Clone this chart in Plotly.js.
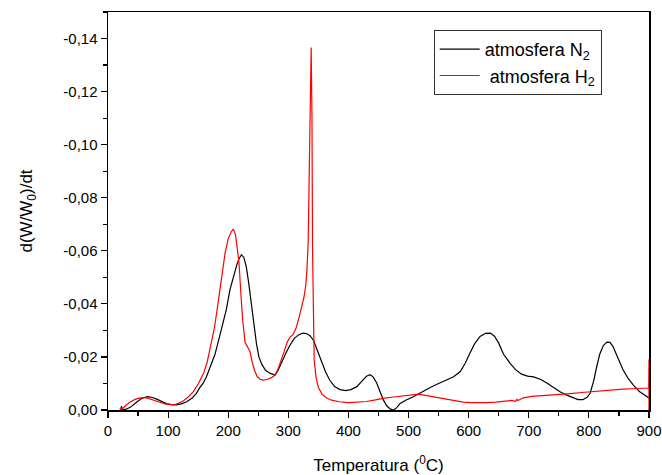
<!DOCTYPE html>
<html>
<head>
<meta charset="utf-8">
<script src="https://cdn.plot.ly/plotly-3.0.1.min.js"></script>
<style>html,body{margin:0;padding:0;background:#fff;}#chart{width:662px;height:475px;}</style>
</head>
<body>
<div id="chart"></div>
<script>
// Temperature (°C) and d(W/W0)/dt for N2 atmosphere
const tempN2 = [22,25,30,37,48,57,66,74,82,90,98,106,114,122,131,140,147,153,158,164,170,178,186,192,197,203,209,214,218,222,226,230,234,239,243,247,251,256,262,270,278,283,289,296,303,310,317,324,330,336,342,348,355,362,369,377,386,395,404,414,422,430,436,441,447,452,458,464,470,475,480,486,496,508,522,536,550,563,575,586,594,602,610,619,628,636,643,650,658,669,678,688,698,708,720,730,741,752,764,774,782,790,797,802,808,813,818,824,830,835,840,846,852,857,865,874,884,896,900];
const dtgN2 = [-0.0015,0,-0.0003,-0.001,-0.003,-0.0045,-0.005,-0.0047,-0.004,-0.003,-0.0023,-0.002,-0.0019,-0.0023,-0.0031,-0.0045,-0.0063,-0.0085,-0.010,-0.0126,-0.016,-0.021,-0.028,-0.033,-0.038,-0.0455,-0.051,-0.0545,-0.057,-0.0585,-0.0575,-0.054,-0.048,-0.040,-0.032,-0.025,-0.020,-0.0172,-0.015,-0.0138,-0.0132,-0.015,-0.0182,-0.0215,-0.0245,-0.027,-0.0283,-0.029,-0.0288,-0.028,-0.0262,-0.0225,-0.018,-0.0143,-0.0112,-0.0088,-0.0077,-0.0073,-0.0077,-0.0088,-0.0108,-0.0127,-0.0133,-0.0125,-0.0102,-0.007,-0.0038,-0.0015,-0.0003,0,-0.0008,-0.0025,-0.0038,-0.005,-0.0068,-0.0085,-0.0100,-0.0113,-0.0125,-0.0145,-0.0175,-0.0214,-0.025,-0.0277,-0.0289,-0.029,-0.0278,-0.0252,-0.021,-0.0176,-0.0152,-0.0135,-0.0128,-0.0125,-0.0115,-0.0102,-0.0085,-0.0069,-0.0055,-0.0045,-0.0039,-0.0039,-0.0048,-0.0063,-0.011,-0.0163,-0.021,-0.0243,-0.0256,-0.0255,-0.024,-0.0208,-0.0175,-0.0151,-0.012,-0.0094,-0.007,-0.005,-0.0045];

// Temperature (°C) and d(W/W0)/dt for H2 atmosphere
const tempH2 = [20,21,22,25,30,37,45,52,59,67,75,85,95,103,109,117,125,133,142,150,159,165,172,177,181,187,191,195,200,205,208.5,212,215,218,221,224,228,232,236,240,244,248,253,258,265,272,278,283,288,293,298,303,308,313,318,322,326,329,331,333,335,336.5,338,339.3,340.3,341.5,343,346,350,356,363,372,385,400,415,430,445,460,475,490,505,517,528,540,552,565,578,591,604,617,630,645,660,672,678,680,682,691,705,719,733,746,760,774,788,802,816,830,843,857,870,884,896,899.5,900,900];
const dtgH2 = [0,-0.001,0,-0.0008,-0.0018,-0.003,-0.004,-0.0045,-0.0047,-0.0044,-0.0039,-0.003,-0.0023,-0.002,-0.0019,-0.0025,-0.0034,-0.0048,-0.0069,-0.0098,-0.0138,-0.018,-0.025,-0.031,-0.037,-0.046,-0.053,-0.0595,-0.0645,-0.0672,-0.0682,-0.0662,-0.061,-0.0553,-0.044,-0.034,-0.0255,-0.0236,-0.0222,-0.018,-0.0148,-0.0127,-0.0116,-0.0113,-0.0115,-0.0122,-0.0132,-0.0155,-0.0185,-0.022,-0.0255,-0.0275,-0.0285,-0.031,-0.035,-0.0385,-0.0425,-0.047,-0.053,-0.063,-0.085,-0.115,-0.1366,-0.11,-0.06,-0.028,-0.019,-0.0125,-0.0085,-0.006,-0.0046,-0.0037,-0.0031,-0.0028,-0.0029,-0.0032,-0.0038,-0.0045,-0.0049,-0.0052,-0.0057,-0.006,-0.0055,-0.005,-0.0045,-0.004,-0.0034,-0.003,-0.0028,-0.0027,-0.0028,-0.003,-0.0033,-0.0036,-0.0033,-0.0040,-0.0036,-0.0046,-0.0051,-0.0054,-0.0057,-0.0059,-0.0061,-0.0063,-0.0066,-0.0069,-0.0072,-0.0075,-0.0077,-0.0079,-0.008,-0.0081,-0.0082,-0.0083,-0.0191,0];

const seriesNames = ["atmosfera N<sub>2</sub>", "&nbsp;atmosfera H<sub>2</sub>"];
const xTickVals = [0,100,200,300,400,500,600,700,800,900];
const xTickText = ["0","100","200","300","400","500","600","700","800","900"];
const yTickVals = [0,-0.02,-0.04,-0.06,-0.08,-0.10,-0.12,-0.14];
const yTickText = ["0,00","-0,02","-0,04","-0,06","-0,08","-0,10","-0,12","-0,14"];
const yMinorVals = [-0.01,-0.03,-0.05,-0.07,-0.09,-0.11,-0.13,-0.15];
const xMinorVals = [50,150,250,350,450,550,650,750,850];

const font = "Liberation Sans, Arial, sans-serif";

const traces = [
  {x: tempN2, y: dtgN2, name: seriesNames[0], type: "scatter", mode: "lines",
   line: {color: "#000000", width: 1.2}},
  {x: tempH2, y: dtgH2, name: seriesNames[1], type: "scatter", mode: "lines",
   line: {color: "#ff0000", width: 1.2}}
];

const layout = {
  width: 662, height: 475,
  margin: {l: 108, r: 13, t: 12, b: 65, pad: 0},
  paper_bgcolor: "#ffffff", plot_bgcolor: "#ffffff",
  font: {family: font, size: 15, color: "#000"},
  showlegend: true,
  legend: {
    x: 0.602, y: 0.955, xanchor: "left", yanchor: "top",
    bordercolor: "#333", borderwidth: 1, bgcolor: "#ffffff",
    font: {family: font, size: 18, color: "#000"},
    tracegroupgap: 0, itemwidth: 40
  },
  xaxis: {
    range: [0, 900], tickmode: "array", tickvals: xTickVals, ticktext: xTickText,
    ticks: "outside", ticklen: 6, tickwidth: 1.2, tickcolor: "#000",
    minor: {tickmode: "array", tickvals: xMinorVals, ticks: "outside", ticklen: 4, tickwidth: 1.2, tickcolor: "#000"},
    showline: true, linecolor: "#000", linewidth: 1.5, mirror: true,
    showgrid: false, zeroline: false,
    tickfont: {family: font, size: 15, color: "#000"},
    title: {text: "Temperatura (<sup>0</sup>C)", font: {family: font, size: 17, color: "#000"}, standoff: 22}
  },
  yaxis: {
    range: [0, -0.15], tickmode: "array", tickvals: yTickVals, ticktext: yTickText,
    ticks: "outside", ticklen: 6, tickwidth: 1.2, tickcolor: "#000",
    minor: {tickmode: "array", tickvals: yMinorVals, ticks: "outside", ticklen: 4, tickwidth: 1.2, tickcolor: "#000"},
    showline: true, linecolor: "#000", linewidth: 1.5, mirror: true,
    showgrid: false, zeroline: false, layer: "below traces",
    tickfont: {family: font, size: 15, color: "#000"},
    title: {text: "d(W/W<sub>0</sub>)/dt", font: {family: font, size: 17, color: "#000"}, standoff: 26}
  }
};

Plotly.newPlot("chart", traces, layout, {displayModeBar: false, staticPlot: true});
</script>
</body>
</html>
